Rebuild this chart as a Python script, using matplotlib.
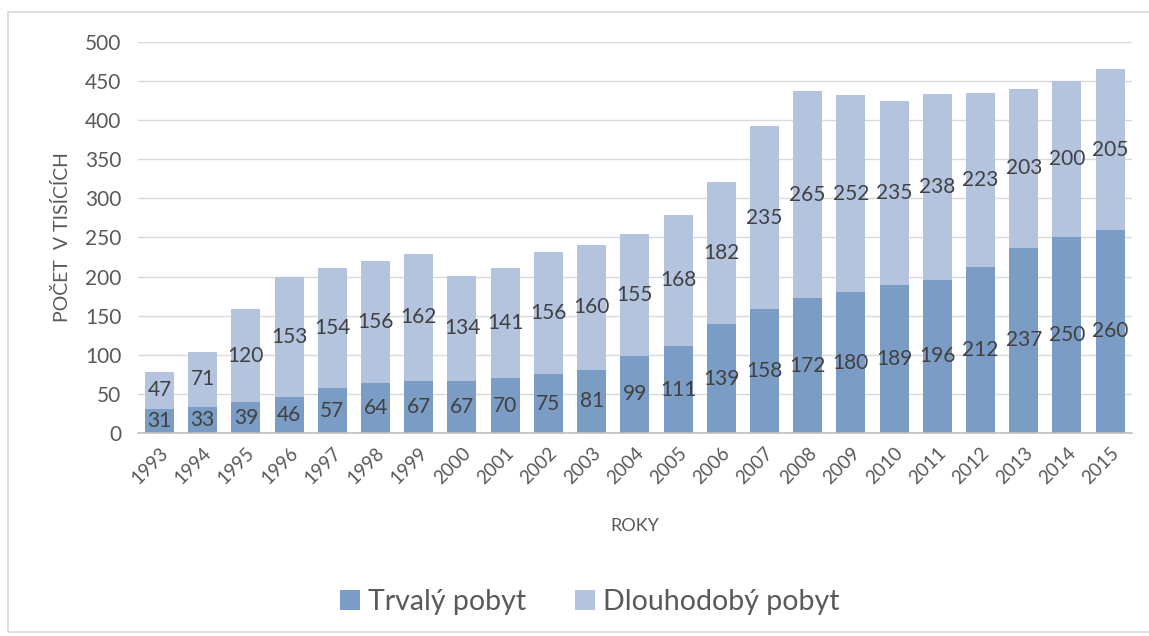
import matplotlib.pyplot as plt
import numpy as np
from matplotlib.patches import Rectangle

roky = ['1993', '1994', '1995', '1996', '1997', '1998', '1999', '2000', '2001', '2002',
        '2003', '2004', '2005', '2006', '2007', '2008', '2009', '2010', '2011', '2012',
        '2013', '2014', '2015']
trvaly = [31, 33, 39, 46, 57, 64, 67, 67, 70, 75, 81, 99, 111, 139, 158, 172, 180, 189,
          196, 212, 237, 250, 260]
dlouhodoby = [47, 71, 120, 153, 154, 156, 162, 134, 141, 156, 160, 155, 168, 182, 235,
              265, 252, 235, 238, 223, 203, 200, 205]

plt.rcParams['font.family'] = ['Lato', 'DejaVu Sans']
txt = '#595959'
c_dark = '#7b9cc4'
c_light = '#b4c4df'

fig = plt.figure(figsize=(11.49, 6.36), dpi=100)
fig.patches.append(Rectangle((8 / 1149, 1 - 632 / 636), 1, 620 / 636, transform=fig.transFigure,
                             fill=False, edgecolor='#d9d9d9', lw=1.2))
ax = fig.add_axes([0.120, 0.3192, 0.865, 0.6148])

x = np.arange(len(roky))
b1 = ax.bar(x, trvaly, width=0.67, color=c_dark, label='Trvalý pobyt', zorder=2)
b2 = ax.bar(x, dlouhodoby, width=0.67, bottom=trvaly, color=c_light, label='Dlouhodobý pobyt', zorder=2)
ax.bar_label(b1, label_type='center', fontsize=15, color='#404040')
ax.bar_label(b2, label_type='center', fontsize=15, color='#404040')

ax.set_xlim(-0.5, len(roky) - 0.5)
ax.set_ylim(0, 500)
ax.set_yticks(range(0, 501, 50))
ax.set_xticks(x)
ax.set_xticklabels(roky, rotation=45, ha='right', rotation_mode='anchor')
ax.tick_params(axis='y', length=0, labelsize=15, labelcolor=txt, pad=12)
ax.tick_params(axis='x', length=0, labelsize=13.5, labelcolor=txt, pad=8)
ax.yaxis.grid(True, color='#d9d9d9', lw=1, zorder=0)
for s in ['top', 'right', 'left']:
    ax.spines[s].set_visible(False)
ax.spines['bottom'].set_color('#bfbfbf')
ax.spines['bottom'].set_linewidth(1.2)

ax.set_ylabel('POČET  V TISÍCÍCH', fontsize=14, color=txt, labelpad=10)
ax.set_xlabel('ROKY', fontsize=13, color=txt, labelpad=22)

fig.legend(handles=[b1, b2], loc='center', bbox_to_anchor=(590 / 1149, 1 - 602 / 636), ncol=2,
           frameon=False, fontsize=20.5, labelcolor=txt, handlelength=0.7, handleheight=0.7,
           handletextpad=0.3, columnspacing=1.7)

fig.savefig('out.png', dpi=100)
